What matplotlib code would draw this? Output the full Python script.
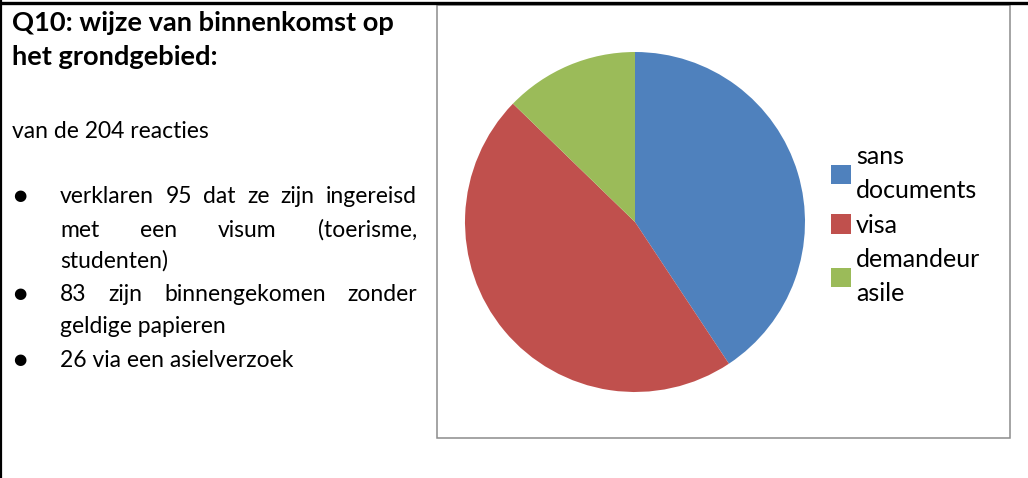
import matplotlib
matplotlib.use("Agg")
import matplotlib.pyplot as plt
from matplotlib.patches import Rectangle

# ---- data ----
categories = ["sans\ndocuments", "visa", "demandeur\nasile"]
counts = [83, 95, 26]
colors = ["#4F81BD", "#C0504D", "#9BBB59"]

title_lines = ["Q10: wijze van binnenkomst op", "het grondgebied:"]
intro = "van de 204 reacties"
bullet_lines = [
    ("verklaren 95 dat ze zijn ingereisd", True, True),
    ("met een visum (toerisme,", False, True),
    ("studenten)", False, False),
    ("83 zijn binnengekomen zonder", True, True),
    ("geldige papieren", False, False),
    ("26 via een asielverzoek", True, False),
]

W, H = 1028, 478
FONT = ["Lato", "DejaVu Sans"]
plt.rcParams["font.family"] = FONT

fig = plt.figure(figsize=(W / 100, H / 100), dpi=100)
fig.patch.set_facecolor("white")

base = fig.add_axes([0, 0, 1, 1])
base.set_xlim(0, W)
base.set_ylim(H, 0)
base.axis("off")

# page borders
base.plot([0, W], [3, 3], color="black", lw=2.4, solid_capstyle="butt")
base.plot([1, 1], [0, H], color="black", lw=1.6, solid_capstyle="butt")

# chart box
base.add_patch(Rectangle((437, 5), 1010 - 437, 438 - 5, facecolor="white",
                         edgecolor="#8c8c8c", lw=1.1))

# ---- left text ----
tkw = dict(fontsize=19.6, fontweight="bold", color="black", va="baseline", ha="left")
base.text(12, 31, title_lines[0], **tkw)
base.text(12, 65, title_lines[1], **tkw)

bkw = dict(fontsize=16.5, color="black", va="baseline", ha="left")
base.text(12, 138, intro, **bkw)

baselines = [203, 237, 268, 301, 333, 367]
x0, x1 = 60, 417
fig.canvas.draw()
renderer = fig.canvas.get_renderer()
for (line, has_bullet, justify), yb in zip(bullet_lines, baselines):
    if has_bullet:
        base.text(20, yb - 7, "\u25CF", fontsize=11, family="DejaVu Sans",
                  ha="center", va="center", color="black")
    if justify:
        words = line.split(" ")
        texts = [base.text(0, yb, w, **bkw) for w in words]
        widths = [t.get_window_extent(renderer).width for t in texts]
        gap = (x1 - x0 - sum(widths)) / (len(words) - 1)
        x = x0
        for t, w in zip(texts, widths):
            t.set_x(x)
            x += w + gap
    else:
        base.text(x0, yb, line, **bkw)

# ---- pie ----
cx, cy, r = 635, 222, 170
pax = fig.add_axes([(cx - r) / W, 1 - (cy + r) / H, 2 * r / W, 2 * r / H])
wedges, _ = pax.pie(counts, colors=colors, startangle=90, counterclock=False,
                    radius=1, wedgeprops=dict(linewidth=0))
pax.set_xlim(-1, 1)
pax.set_ylim(-1, 1)
pax.set_aspect("equal")
pax.axis("off")

leg = fig.legend(wedges, categories, loc="upper left",
                 bbox_to_anchor=(831 / W, 1 - 145 / H), frameon=False,
                 fontsize=18, handlelength=0.8, handleheight=0.8,
                 handletextpad=0.2, labelspacing=0.45, borderpad=0,
                 borderaxespad=0)
for t in leg.get_texts():
    t.set_linespacing(1.6)

fig.savefig("out.png", dpi=100)
